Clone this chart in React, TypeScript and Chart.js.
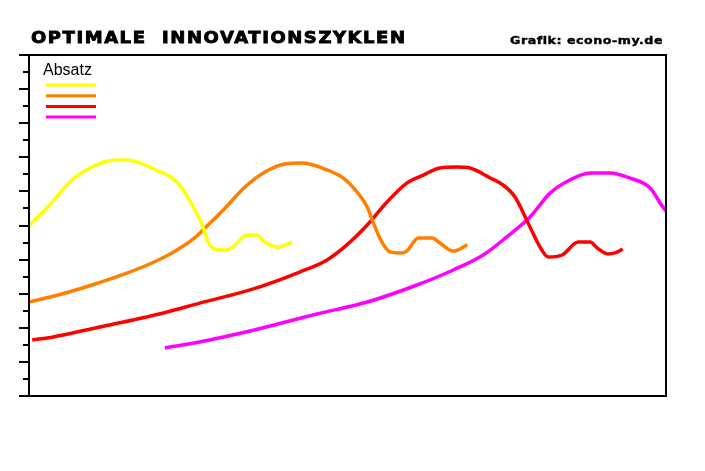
import React, { useEffect, useRef } from 'react';
import { Chart, registerables } from 'chart.js';

Chart.register(...registerables);

const TITLE = 'OPTIMALE  INNOVATIONSZYKLEN';
const SOURCE = 'Grafik: econo-my.de';
const LEGEND_TITLE = 'Absatz';

const cycleLabels = ['Zyklus 1', 'Zyklus 2', 'Zyklus 3', 'Zyklus 4'];
const cycleColors = ['#FFFF00', '#FF8000', '#FF0000', '#FF00FF'];

const cycle1X = [0, 3.0, 6.75, 9.9, 12.4, 15.1, 17.1, 20.25, 22.45, 24.0, 25.6, 27.2, 28.1, 29.2, 30.8, 32.0, 34.2, 35.8, 37.0, 39.1, 41.3];
const cycle1Y = [10.0, 11.1, 12.67, 13.43, 13.78, 13.84, 13.72, 13.2, 12.79, 12.2, 11.2, 10.03, 9.03, 8.62, 8.56, 8.74, 9.44, 9.44, 9.03, 8.74, 9.03];

const cycle2X = [0, 4.55, 9.9, 14.6, 19.3, 22.45, 25.6, 28.1, 30.8, 33.9, 37.05, 40.2, 42.9, 46.8, 49.3, 51.5, 53.1, 54.0, 55.4, 56.7, 58.2, 59.3, 61.1, 63.3, 64.5, 66.6, 68.8];
const cycle2Y = [5.51, 5.92, 6.51, 7.1, 7.8, 8.39, 9.15, 10.03, 11.03, 12.26, 13.14, 13.61, 13.67, 13.26, 12.79, 11.96, 11.08, 10.2, 9.03, 8.45, 8.39, 8.5, 9.27, 9.27, 8.97, 8.5, 8.86];

const cycle3X = [0.5, 3.8, 11.1, 17.0, 21.7, 26.8, 34.7, 42.5, 46.8, 49.9, 53.1, 56.2, 59.3, 61.9, 64.5, 67.2, 69.2, 72.4, 74.4, 76.3, 77.9, 79.1, 80.5, 81.5, 83.7, 86.2, 88.1, 89.2, 90.9, 92.0, 93.2];
const cycle3Y = [3.28, 3.46, 4.05, 4.52, 4.93, 5.45, 6.22, 7.27, 7.98, 8.86, 10.03, 11.38, 12.49, 12.96, 13.37, 13.43, 13.37, 12.79, 12.38, 11.67, 10.5, 9.56, 8.56, 8.15, 8.27, 9.03, 9.03, 8.68, 8.33, 8.39, 8.62];

const cycle4X = [21.35, 26.8, 34.7, 45.2, 53.1, 60.9, 66.6, 71.3, 75.0, 78.65, 81.8, 84.9, 88.1, 91.2, 94.3, 97.5, 99.5, 100];
const cycle4Y = [2.82, 3.17, 3.81, 4.81, 5.51, 6.51, 7.39, 8.27, 9.33, 10.5, 11.9, 12.67, 13.08, 13.08, 12.79, 12.2, 11.08, 10.85];

const cyclesX = [cycle1X, cycle2X, cycle3X, cycle4X];
const cyclesY = [cycle1Y, cycle2Y, cycle3Y, cycle4Y];

const Y_MAX = 20;

// wide heavy text: stretched horizontally, letter spacing fitted to a target width
const drawWide = (ctx: CanvasRenderingContext2D, text: string, x: number, y: number, width: number, sx: number, heavy: number) => {
  const c = ctx as any;
  ctx.save();
  ctx.translate(x, y);
  ctx.scale(sx, 1);
  c.letterSpacing = '0px';
  const w = ctx.measureText(text).width;
  const spacing = (width / sx - w) / Math.max(1, text.length - 1);
  c.letterSpacing = `${spacing}px`;
  ctx.fillText(text, 0, 0);
  ctx.strokeStyle = ctx.fillStyle;
  ctx.lineWidth = heavy;
  ctx.strokeText(text, 0, 0);
  ctx.restore();
};

const framePlugin = {
  id: 'frame',
  afterDatasetsDraw(chart: Chart) {
    const { ctx, chartArea } = chart;
    const { left, top, right, bottom } = chartArea;
    const yScale = chart.scales.y;
    ctx.save();
    ctx.strokeStyle = '#000';
    ctx.lineWidth = 2;
    ctx.beginPath();
    ctx.moveTo(left - 10, top);
    ctx.lineTo(right, top);
    ctx.lineTo(right, bottom);
    ctx.lineTo(left - 10, bottom);
    ctx.moveTo(left, top);
    ctx.lineTo(left, bottom);
    for (let v = 1; v < Y_MAX; v++) {
      const py = Math.round(yScale.getPixelForValue(v));
      ctx.moveTo(left - (v % 2 === 0 ? 10 : 6), py);
      ctx.lineTo(left, py);
    }
    ctx.stroke();

    // legend
    ctx.fillStyle = '#000';
    ctx.font = '16px "Liberation Sans", Arial, sans-serif';
    ctx.textBaseline = 'alphabetic';
    ctx.textAlign = 'left';
    ctx.fillText(LEGEND_TITLE, left + 14, top + 20);
    ctx.lineWidth = 3;
    chart.data.datasets.forEach((ds, i) => {
      const ly = top + 30 + i * 10.7;
      ctx.strokeStyle = ds.borderColor as string;
      ctx.beginPath();
      ctx.moveTo(left + 17, ly);
      ctx.lineTo(left + 67, ly);
      ctx.stroke();
    });

    // title and source
    ctx.fillStyle = '#000';
    ctx.font = 'bold 15px "DejaVu Sans", sans-serif';
    drawWide(ctx, TITLE, 31, 43, 374, 1.2, 0.8);
    ctx.font = 'bold 11px "DejaVu Sans", sans-serif';
    drawWide(ctx, SOURCE, 510, 44, 152, 1.15, 0.4);
    ctx.restore();
  },
};

const App: React.FC = () => {
  const chartRef = useRef<HTMLCanvasElement>(null);
  const chartInstance = useRef<Chart | null>(null);

  useEffect(() => {
    if (!chartRef.current) return;
    const ctx = chartRef.current.getContext('2d');
    if (!ctx) return;
    if (chartInstance.current) chartInstance.current.destroy();

    chartInstance.current = new Chart(ctx, {
      type: 'line',
      data: {
        datasets: cycleLabels.map((label, i) => ({
          label,
          data: cyclesX[i].map((x, j) => ({ x, y: cyclesY[i][j] })),
          borderColor: cycleColors[i],
          backgroundColor: cycleColors[i],
          borderWidth: 3.5,
          pointRadius: 0,
          cubicInterpolationMode: 'monotone' as const,
          fill: false,
        })),
      },
      options: {
        responsive: false,
        animation: false,
        layout: { padding: { left: 29, top: 55, right: 39, bottom: 75 } },
        plugins: {
          legend: { display: false },
          tooltip: { enabled: false },
        },
        scales: {
          x: { type: 'linear', min: 0, max: 100, display: false },
          y: { type: 'linear', min: 0, max: Y_MAX, display: false },
        },
      },
      plugins: [framePlugin],
    });

    return () => {
      if (chartInstance.current) {
        chartInstance.current.destroy();
        chartInstance.current = null;
      }
    };
  }, []);

  return (
    <div style={{ position: 'absolute', left: 0, top: 0, width: 705, height: 471, background: '#fff' }}>
      <canvas ref={chartRef} width={705} height={471} />
    </div>
  );
};

export default App;
